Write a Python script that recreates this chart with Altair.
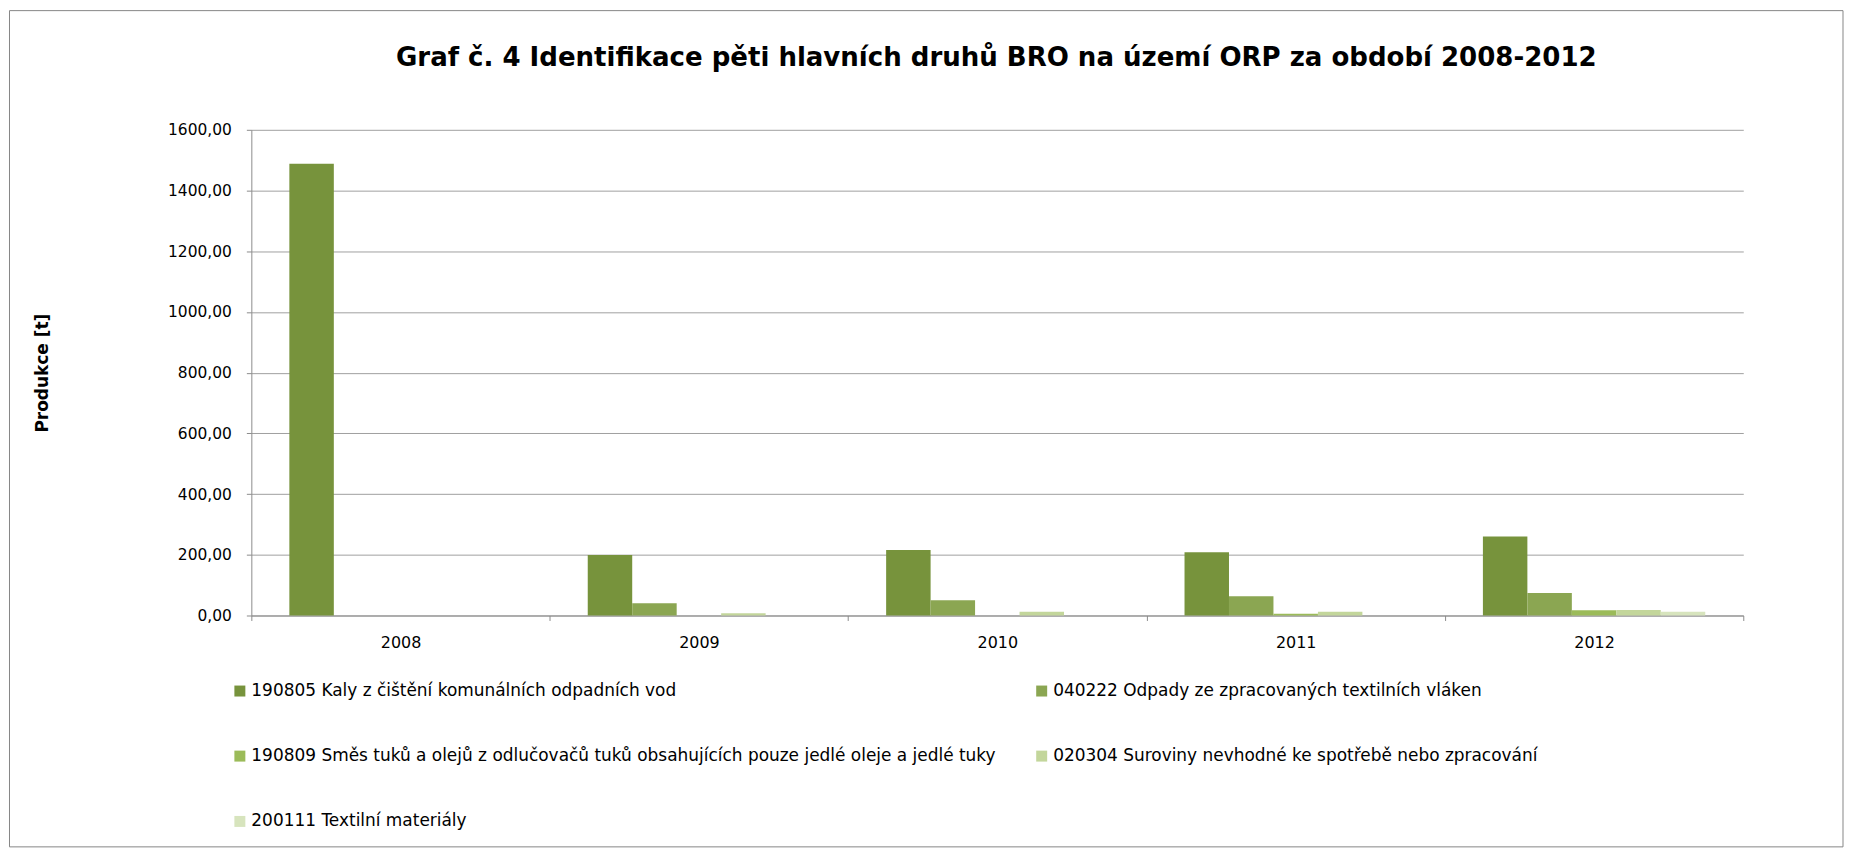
import altair as alt
import pandas as pd

# ---------------- data ----------------
years = ["2008", "2009", "2010", "2011", "2012"]
series = [
    "190805 Kaly z čištění komunálních odpadních vod",
    "040222 Odpady ze zpracovaných textilních vláken",
    "190809 Směs tuků a olejů z odlučovačů tuků obsahujících pouze jedlé oleje a jedlé tuky",
    "020304 Suroviny nevhodné ke spotřebě nebo zpracování",
    "200111 Textilní materiály",
]
v_190805 = [1488, 199, 216, 208, 260]
v_040222 = [0, 40, 50, 63, 74]
v_190809 = [0, 0, 0, 6, 17]
v_020304 = [0, 7, 12, 12, 18]
v_200111 = [0, 0, 0, 0, 12]
colors = ["#77933C", "#8BA652", "#9BBB59", "#C3D69B", "#D7E4BD"]
y_ticks = [0, 200, 400, 600, 800, 1000, 1200, 1400, 1600]
title_text = "Graf č. 4 Identifikace pěti hlavních druhů BRO na území ORP za období 2008-2012"
y_title = "Produkce [t]"

values = [v_190805, v_040222, v_190809, v_020304, v_200111]
rows = []
for s, vals in zip(series, values):
    for y, v in zip(years, vals):
        rows.append({"year": y, "series": s, "value": v})
df = pd.DataFrame(rows)

# legend is laid out column by column: order entries so rows read like the original
legend_idx = [0, 2, 4, 1, 3]
legend_domain = [series[i] for i in legend_idx]
legend_range = [colors[i] for i in legend_idx]

FONT = "DejaVu Sans"
GRAY = "#8C8C8C"

bars = alt.Chart(df).mark_bar().encode(
    x=alt.X(
        "year:N",
        sort=years,
        scale=alt.Scale(paddingInner=0, paddingOuter=0),
        axis=alt.Axis(
            title=None,
            labelAngle=0,
            tickBand="extent",
            tickSize=5,
            tickColor=GRAY,
            domainColor=GRAY,
            labelFont=FONT,
            labelFontSize=16,
            labelColor="#000000",
            labelPadding=14,
            grid=False,
        ),
    ),
    xOffset=alt.XOffset(
        "series:N",
        sort=series,
        scale=alt.Scale(paddingInner=0, paddingOuter=0.855),
    ),
    y=alt.Y(
        "value:Q",
        scale=alt.Scale(domain=[0, 1600], nice=False),
        axis=alt.Axis(
            values=y_ticks,
            labelExpr="replace(format(datum.value, '.2f'), '.', ',')",
            title=y_title,
            titleFont=FONT,
            titleFontWeight="bold",
            titleFontSize=17,
            titleColor="#000000",
            titleX=-209,
            titleY=243.5,
            titleAngle=270,
            titleAlign="center",
            titleBaseline="middle",
            grid=True,
            gridColor="#A0A0A0",
            gridWidth=1,
            domainColor=GRAY,
            tickColor=GRAY,
            tickSize=5,
            labelFont=FONT,
            labelFontSize=15.5,
            labelColor="#000000",
            labelPadding=15,
        ),
    ),
    color=alt.Color(
        "series:N",
        scale=alt.Scale(domain=legend_domain, range=legend_range),
        legend=alt.Legend(
            title=None,
            orient="none",
            legendX=-20,
            legendY=554,
            columns=2,
            columnPadding=37,
            rowPadding=47.5,
            symbolType="square",
            symbolSize=121,
            symbolStrokeWidth=0,
            labelFont=FONT,
            labelFontSize=17,
            labelColor="#000000",
            labelLimit=2000,
            labelOffset=3,
            padding=0,
        ),
    ),
)

frame = alt.Chart(pd.DataFrame({"k": [0]})).mark_rect(
    fill="#FFFFFF", fillOpacity=0, stroke="#868686", strokeWidth=1
).encode(
    x=alt.value(-242.5), x2=alt.value(1596), y=alt.value(-119.5), y2=alt.value(719)
)

title = alt.Chart(pd.DataFrame({"t": [title_text]})).mark_text(
    font=FONT, fontWeight="bold", fontSize=26.1, color="#000000",
    align="center", baseline="alphabetic",
).encode(text="t:N", x=alt.value(747), y=alt.value(-63.5))

chart = alt.layer(frame, bars, title).properties(
    width=1496,
    height=487,
    padding={"left": 1, "top": 1, "right": 0, "bottom": 0},
    background="#FFFFFF",
).configure_view(stroke=None)

chart.save("out.html", embed_options={"renderer": "svg", "actions": False})
